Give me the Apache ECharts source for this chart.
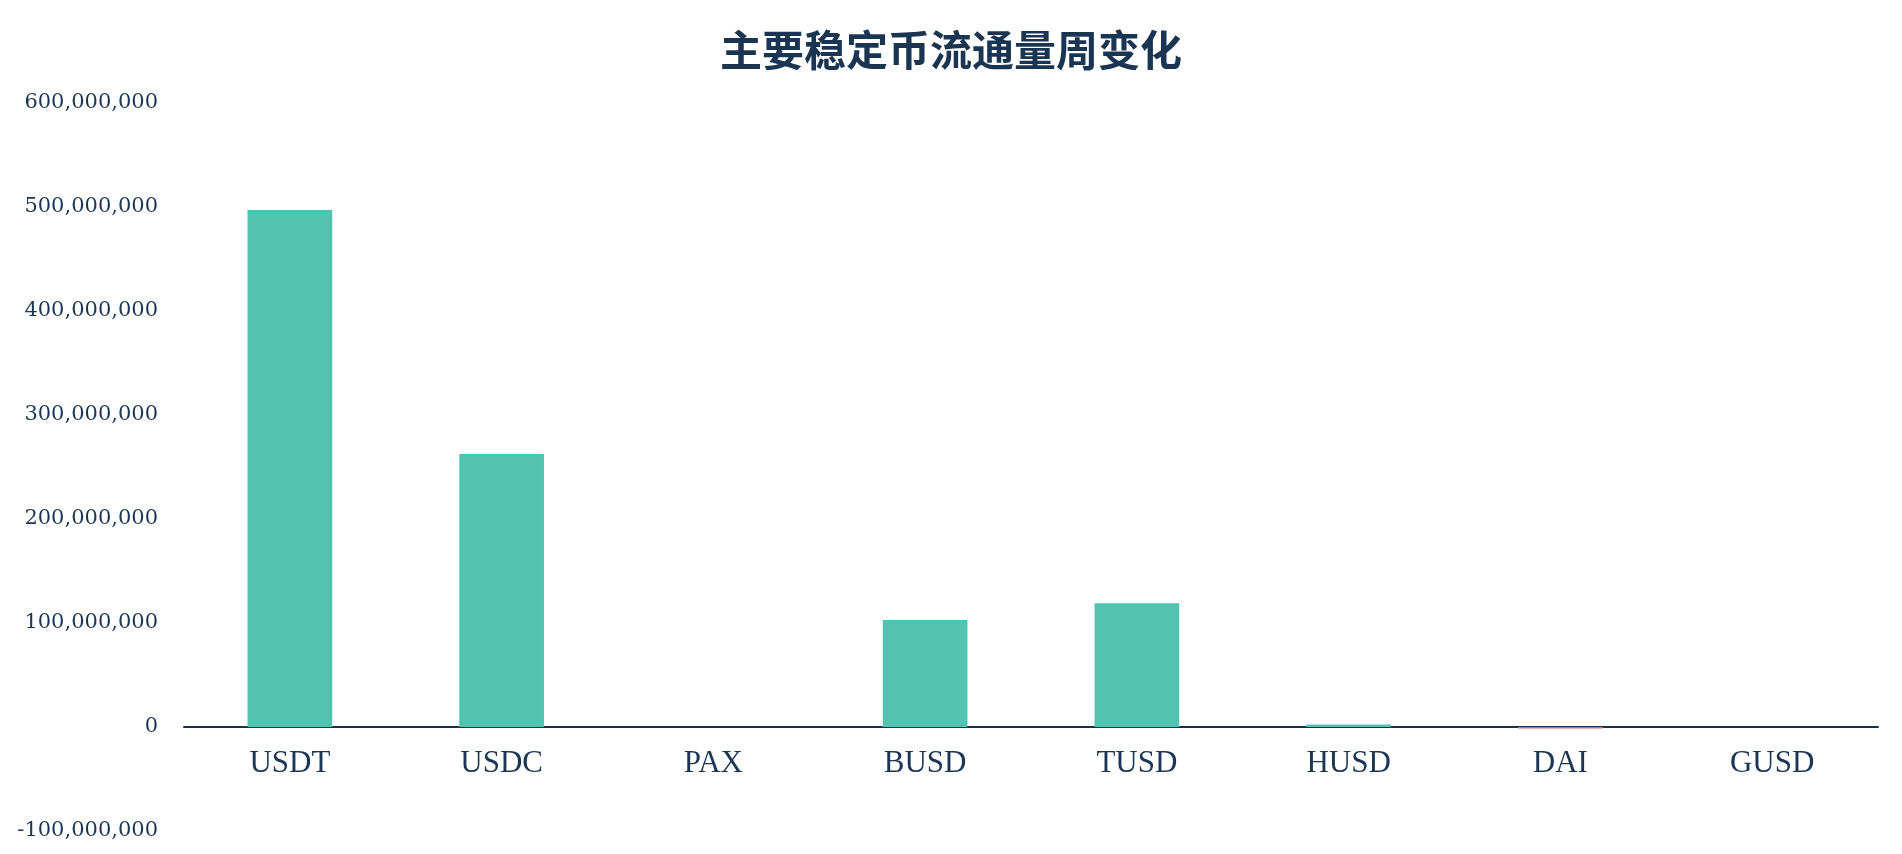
<!DOCTYPE html>
<html><head><meta charset="utf-8">
<script src="https://cdn.jsdelivr.net/npm/echarts@6/dist/echarts.min.js"></script>
<style>html,body{margin:0;padding:0;background:#fff}#c{width:1902px;height:854px}</style>
</head><body><div id="c"></div>
<script>
const categories = ['USDT','USDC','PAX','BUSD','TUSD','HUSD','DAI','GUSD'];
const weeklyChange = [497000000, 262500000, 0, 103000000, 119000000, 2500000, -1500000, 0];
const yTicks = [-100000000, 0, 100000000, 200000000, 300000000, 400000000, 500000000, 600000000];
const titleText = '主要稳定币流通量周变化';

const chart = echarts.init(document.getElementById('c'));
chart.setOption({
  backgroundColor: '#ffffff',
  animation: false,
  title: {
    text: titleText, left: 'center', top: 24,
    textStyle: {fontFamily: '"Noto Sans CJK SC"', fontSize: 42, fontWeight: 'bold', color: '#1a3552'}
  },
  grid: {left: 184, right: 24, top: 103, bottom: 23, containLabel: false, outerBoundsMode: 'none'},
  xAxis: {
    type: 'category', data: categories, offset: -104,
    axisLine: {onZero: false, lineStyle: {color: '#17324d', width: 2}},
    axisTick: {show: false},
    axisLabel: {margin: 21, fontFamily: '"Liberation Serif"', fontSize: 31, color: '#1b3655'}
  },
  yAxis: {
    type: 'value', min: yTicks[0], max: yTicks[yTicks.length - 1], interval: 100000000,
    splitLine: {show: false}, axisLine: {show: false}, axisTick: {show: false},
    axisLabel: {
      margin: 26, fontFamily: '"DejaVu Serif"', fontSize: 21, color: '#1b3655',
      formatter: v => v.toLocaleString('en-US')
    }
  },
  series: [{
    type: 'bar', data: weeklyChange, barWidth: '40%',
    itemStyle: {color: p => p.value < 0 ? '#e0675c' : '#52c3b1'}
  }]
});
</script></body></html>
